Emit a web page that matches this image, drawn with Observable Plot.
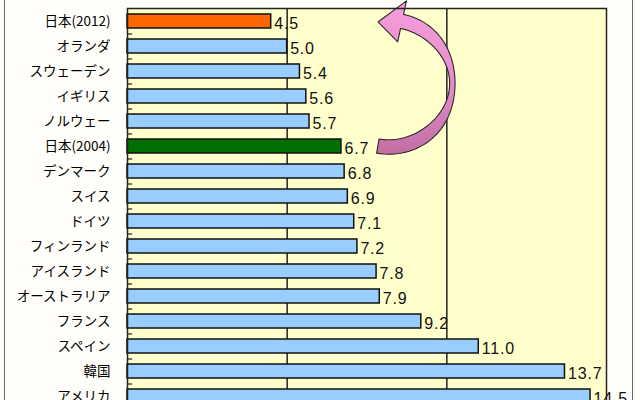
<!DOCTYPE html>
<html><head><meta charset="utf-8">
<script src="https://cdn.jsdelivr.net/npm/d3@7"></script>
<script src="https://cdn.jsdelivr.net/npm/@observablehq/plot@0.6"></script>
<style>
html,body{margin:0;padding:0;overflow:hidden;background:#fffefa;width:640px;height:400px;}
#frame{position:absolute;left:4px;top:-10px;width:627px;height:480px;border-left:1px solid #666;border-right:1px solid #666;}
#chart{position:absolute;left:0;top:0;}
</style></head><body>
<div id="frame"></div>
<div id="chart"></div>
<script>
// ---- data ----
const countries = ["日本(2012)","オランダ","スウェーデン","イギリス","ノルウェー","日本(2004)","デンマーク","スイス","ドイツ","フィンランド","アイスランド","オーストラリア","フランス","スペイン","韓国","アメリカ"];
const values = [4.5,5.0,5.4,5.6,5.7,6.7,6.8,6.9,7.1,7.2,7.8,7.9,9.2,11.0,13.7,14.5];
const highlight = {"日本(2012)": "2012", "日本(2004)": "2004"};
const groupDomain = ["2012","2004","other"];
const groupColors = ["#ff6600","#007000","#99ccff"];
const gridTicks = [5,10];
const arrowFrom = "日本(2004)", arrowTo = "日本(2012)", arrowX = 8.2;

const data = countries.map((c,i) => ({country: c, value: values[i], group: highlight[c] || "other"}));

// curved block arrow drawn with the plot's scales
function arrowMark(index, scales) {
  const {x, y} = scales;
  const bw = typeof y.bandwidth === "function" ? y.bandwidth() : (y.bandwidth || 0);
  const yA = y(arrowFrom) + bw/2, yB = y(arrowTo) + bw/2;
  const cx = x(arrowX), cy = (yA + yB)/2, R = (yA - yB)/2 + 1;
  const rad = Math.PI/180;
  const a0 = 100*rad, a1 = -78*rad, aTip = -100*rad;
  const hw = t => { const c = Math.cos(t); return 7.2 - (c > 0 ? 4.5*Math.pow(c,4) : 0); };
  const pt = (a, r) => [cx + r*Math.cos(a), cy + r*Math.sin(a)];
  const outer = [], inner = [];
  const n = 60;
  for (let k = 0; k <= n; k++) {
    const t = a0 + (a1 - a0)*k/n;
    outer.push(pt(t, R + hw(t)));
    inner.push(pt(t, R - hw(t)));
  }
  const pts = [...outer, pt(a1, R + 21), pt(aTip, R - 1), pt(a1, R - 21), ...inner.reverse()];
  const g = d3.create("svg:g");
  const grad = g.append("defs").append("linearGradient")
    .attr("id","arrowGrad").attr("x1","0").attr("y1","0").attr("x2","0").attr("y2","1");
  grad.append("stop").attr("offset","0%").attr("stop-color","#f79ddc");
  grad.append("stop").attr("offset","55%").attr("stop-color","#e48ccb");
  grad.append("stop").attr("offset","100%").attr("stop-color","#c26ea4");
  g.append("path")
    .attr("d", "M" + pts.map(p => p[0].toFixed(2) + "," + p[1].toFixed(2)).join("L") + "Z")
    .attr("fill","url(#arrowGrad)").attr("stroke","#2a2a2a").attr("stroke-width",1.1)
    .attr("stroke-linejoin","round");
  return g.node();
}

const plot = Plot.plot({
  width: 640, height: 440,
  marginLeft: 127, marginRight: 34, marginTop: 8, marginBottom: 32,
  style: {background: "transparent", fontFamily: "'Noto Sans CJK JP', sans-serif", fontSize: "13.5px", color: "#000"},
  x: {domain: [0, 15], axis: null},
  y: {domain: countries, paddingInner: 0.44, paddingOuter: 0.22, label: null, tickSize: 0, tickPadding: 17},
  color: {domain: groupDomain, range: groupColors},
  marks: [
    Plot.frame({fill: "#ffffcc"}),
    Plot.ruleX(gridTicks, {stroke: "#222", strokeWidth: 1.5}),
    Plot.ruleY(countries.slice(0, -1), {y: d => d, x1: d => 0, x2: d => 0.16, dy: 12.5, stroke: "#222", strokeWidth: 1.2}),
    Plot.barX(data, {x: "value", y: "country", fill: "group", stroke: "#111", strokeWidth: 1.5}),
    Plot.text(data, {x: "value", y: "country", text: d => d.value.toFixed(1), textAnchor: "start", dx: 3, dy: 2, fontSize: 16, fontFamily: "'Liberation Sans', Arial, sans-serif", fill: "#111"}),
    arrowMark,
    Plot.frame({stroke: "#222", strokeWidth: 1.5})
  ]
});
d3.select(plot).selectAll("g[aria-label='text'] text").style("letter-spacing", "0.8px");
document.getElementById("chart").appendChild(plot);
</script>
</body></html>
